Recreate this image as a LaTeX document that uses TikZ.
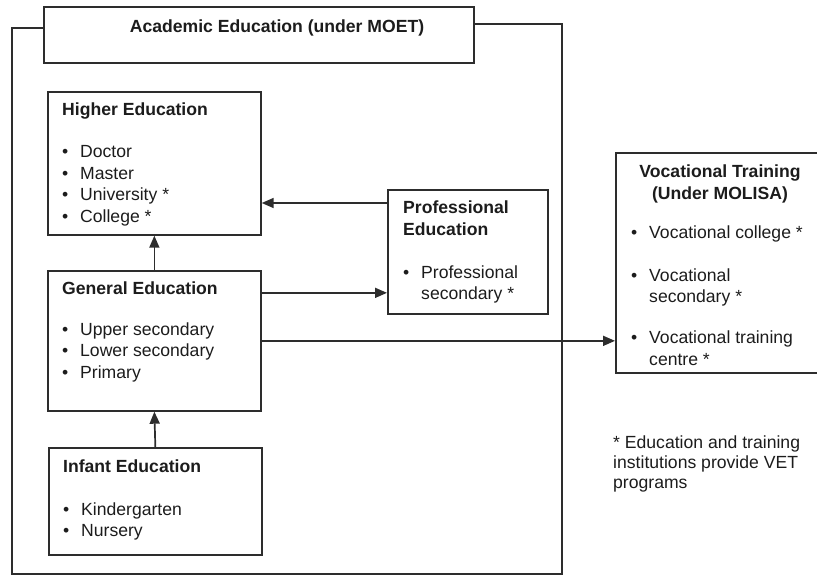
\documentclass[tikz,border=0pt]{standalone}
\usepackage{fontspec}
\setmainfont{Liberation Sans}
\usepackage{xcolor}
\usetikzlibrary{arrows.meta,positioning,calc}
\definecolor{boxline}{RGB}{45,45,45}
\definecolor{inktext}{RGB}{28,28,28}
\newcommand{\bul}[1]{\makebox[18bp][l]{\textbullet}#1}
\newcommand{\bulcont}[1]{\hspace*{18bp}#1}
\newcommand{\lines}[2][l]{\begin{tabular}[t]{@{}#1@{}}#2\end{tabular}}

\begin{document}
\begin{tikzpicture}[x=1bp,y=-1bp,line join=miter,
  box/.style={draw=boxline,line width=1.7bp,inner sep=0pt,anchor=north west},
  txt/.style={inner sep=0pt,anchor=base west,text=inktext,
    font=\fontsize{17.6bp}{21.5bp}\selectfont},
  flow/.style={draw=boxline,line width=1.7bp,-{Triangle[length=12bp,width=10bp]}}]
  \useasboundingbox (0,0) rectangle (817,575);
  % --- Academic education frame (MOET) ---
  \node[box,minimum width=430bp,minimum height=56bp] (title) at (43,6) {};
  \node[txt,anchor=base] (titletxt) at (277,33) {\textbf{Academic Education (under MOET)}};
  \draw[boxline,line width=1.7bp] (title.west |- 0,28) -- (12,28) -- (12,574)
    -- (562,574) -- (562,24) -- (title.east |- 0,24);
  % higher education
  \node[box,minimum width=213bp,minimum height=143bp] (high) at (47,91) {};
  \node[txt] (hightxt) at (62,116) {\lines{\textbf{Higher Education}\\[20.5bp]
    \bul{Doctor}\\\bul{Master}\\\bul{University *}\\\bul{College *}}};
  % general education
  \node[box,minimum width=213bp,minimum height=140bp] (gen) at (47,270) {};
  \node[txt] (gentxt) at (62,294) {\lines{\textbf{General Education}\\[19.5bp]
    \bul{Upper secondary}\\\bul{Lower secondary}\\\bul{Primary}}};
  % infant education
  \node[box,minimum width=213bp,minimum height=107bp] (inf) at (48,447) {};
  \node[txt] (inftxt) at (63,472) {\lines{\textbf{Infant Education}\\[21.5bp]
    \bul{Kindergarten}\\\bul{Nursery}}};
  % professional education
  \node[box,minimum width=160bp,minimum height=124bp] (prof) at (387,189) {};
  \node[txt] (proftxt) at (403,214) {\lines{\textbf{Professional}\\\textbf{Education}\\[21bp]
    \bul{Professional}\\\bulcont{secondary *}}};
  % --- Vocational training (MOLISA) ---
  \node[box,minimum width=212bp,minimum height=220bp] (voc) at (615,152) {};
  \node[txt,anchor=base] (vochead) at (720,178)
    {\lines[c]{\textbf{Vocational Training}\\\textbf{(Under MOLISA)}}};
  \node[txt] (voctxt) at (631,239) {\lines{\bul{Vocational college *}\\[20.5bp]
    \bul{Vocational}\\\bulcont{secondary *}\\[19.5bp]
    \bul{Vocational training}\\\bulcont{centre *}}};
  \node[txt,font=\fontsize{17.6bp}{20bp}\selectfont] (note) at (613,448)
    {\lines{* Education and training\\institutions provide VET\\programs}};
  % --- arrows ---
  \coordinate (profin) at ([yshift=-14bp]prof.north west);
  \coordinate (genout) at ([yshift=48bp]gen.east);
  \draw[flow] (profin) -- (profin -| high.east);
  \draw[flow] (genout) -- (genout -| prof.west);
  \draw[flow] (gen.east) -- (gen.east -| voc.west);
  \draw[flow] (gen.north) -- (high.south);
  \draw[flow] (inf.north) -- (gen.south);
\end{tikzpicture}
\end{document}
